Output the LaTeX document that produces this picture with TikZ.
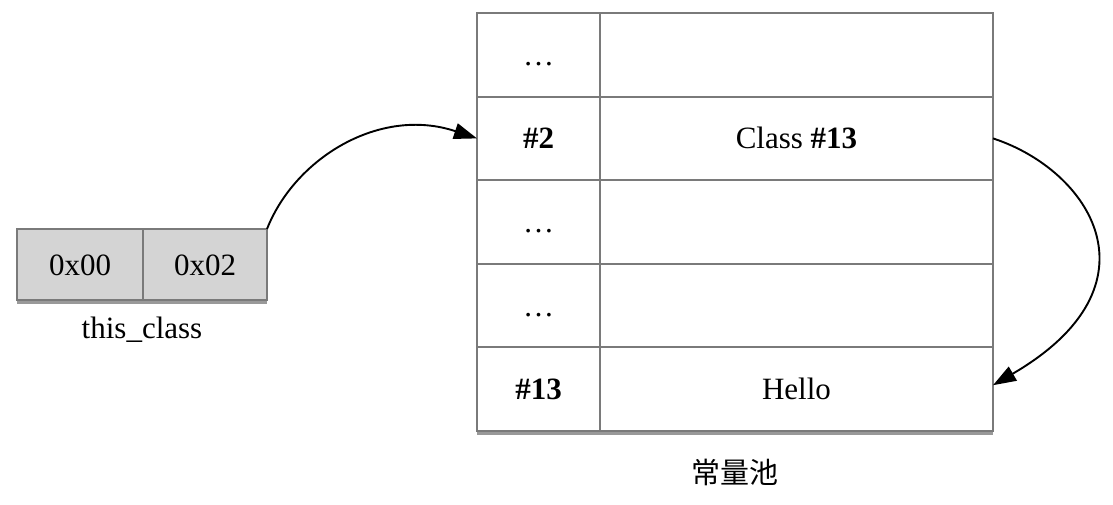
\documentclass[tikz,border=0pt]{standalone}
\usepackage{fontspec}
\setmainfont{Liberation Serif}
\newfontfamily\cjk{Noto Sans CJK SC}
\usetikzlibrary{arrows.meta,shadows}
\begin{document}
\begin{tikzpicture}[x=1pt,y=-1pt,
  txt/.style={font=\fontsize{31}{36}\selectfont},
  cell/.style={txt,draw=black!52,line width=2pt,inner sep=0pt,outer sep=0pt,minimum height=83.6pt,text height=21pt,text depth=0pt},
  keycell/.style={cell,minimum width=123pt},
  valcell/.style={cell,minimum width=393pt},
  bytecell/.style={txt,draw=black!52,fill=black!17,line width=2pt,inner sep=0pt,outer sep=0pt,minimum height=71pt,text height=21pt,text depth=0pt},
  frame/.style={fill=white,inner sep=0pt,outer sep=0pt,drop shadow={shadow xshift=0pt,shadow yshift=-3.5pt,fill=black,opacity=0.4}},
  conn/.style={draw=black,line width=1.9pt,-{Triangle[length=23pt,width=16pt]}}
]
\useasboundingbox (0,0) rectangle (1113,504);
% left box
\node[frame,minimum width=250pt,minimum height=71pt] (bytes) at (142,264.5) {};
\node[bytecell,minimum width=126pt] (b1) at (80,264.5) {0x00};
\node[bytecell,minimum width=124pt] (b2) at (205,264.5) {0x02};
\node[txt] (lbl) at (142,330) {this\_class};
% table
\node[frame,minimum width=516pt,minimum height=418pt] (pool) at (735,222) {};
\node[keycell] (k1) at (538.5,54.8) {…};
\node[valcell] (v1) at (796.5,54.8) {};
\node[keycell] (k2) at (538.5,138.4) {\textbf{\#2}};
\node[valcell] (v2) at (796.5,138.4) {Class \textbf{\#13}};
\node[keycell] (k3) at (538.5,222) {…};
\node[valcell] (v3) at (796.5,222) {};
\node[keycell] (k4) at (538.5,305.6) {…};
\node[valcell] (v4) at (796.5,305.6) {};
\node[keycell] (k5) at (538.5,389.2) {\textbf{\#13}};
\node[valcell] (v5) at (796.5,389.2) {Hello};
\node[txt,font=\cjk\fontsize{29}{34}\selectfont] (plbl) at (735,472) {常量池};
% connectors
\draw[conn] (b2.north east) .. controls (295,158) and (380,106) .. (k2.west);
\draw[conn] (v2.east) .. controls (1090,170) and (1165,285) .. ([yshift=4pt]v5.east);
\end{tikzpicture}
\end{document}
